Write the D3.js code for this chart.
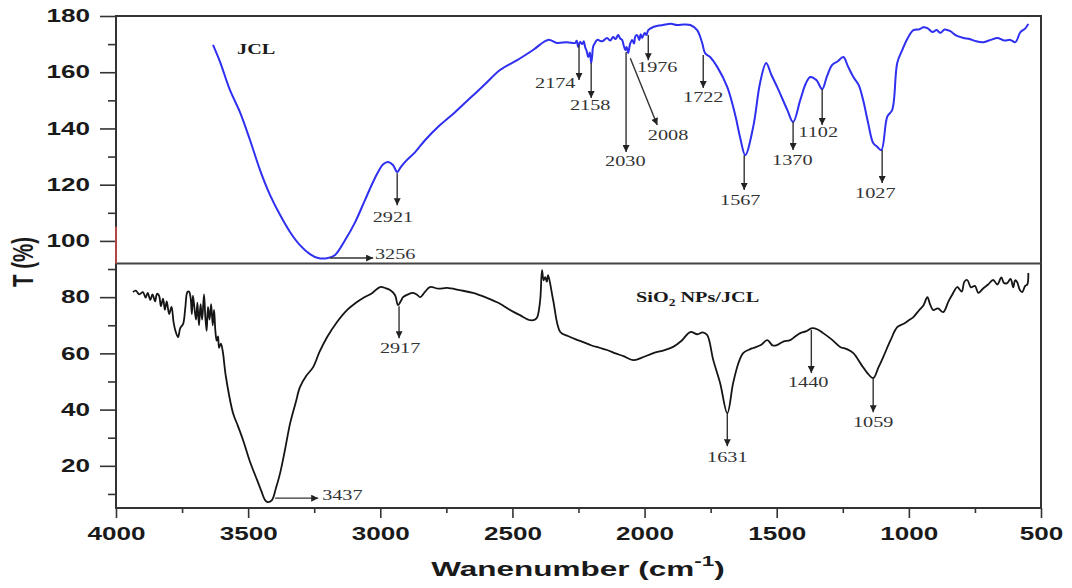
<!DOCTYPE html>
<html lang="en">
<head>
<meta charset="UTF-8">
<title>FTIR spectra</title>
<script src="https://d3js.org/d3.v7.min.js"></script>
<style>
    body { margin: 0; background: #fff; }
</style>
</head>
<body>
<script type="text/javascript">
    // ---- data ----
    var xTicks = [4000, 3500, 3000, 2500, 2000, 1500, 1000, 500];
    var xMinor = [3750, 3250, 2750, 2250, 1750, 1250, 750];
    var yTicks = [20, 40, 60, 80, 100, 120, 140, 160, 180];
    var yMinor = [10, 30, 50, 70, 90, 110, 130, 150, 170];

    // JCL (blue, upper trace): [wavenumber, T %]
    var jclSpectrum = [[3633,169.7],[3606,163.6],[3569,153.7],[3531,145.8],[3493,135.9],[3455,125.2],[3417,116.3],[3379,109.2],
        [3341,103.1],[3304,98.5],[3266,95.3],[3235,93.9],[3198,93.9],[3171,95.0],[3133,100.3],[3095,106.7],[3058,114.5],
        [3020,122.4],[2989,127.3],[2970,128.1],[2952,127.0],[2936,124.5],[2925,125.9],[2906,128.1],[2868,131.6],[2830,135.9],
        [2774,141.2],[2717,145.8],[2660,150.8],[2603,155.8],[2547,160.8],[2482,164.3],[2422,167.9],[2365,171.5],[2331,170.4],
        [2293,170.7],[2263,170.4],[2257,171.2],[2251,169.0],[2244,170.8],[2236,170.0],[2230,171.0],[2225,169.0],[2219,167.5],
        [2213,165.4],[2207,167.0],[2202,163.3],[2198,166.0],[2195,169.0],[2187,170.5],[2179,171.5],[2160,171.0],[2142,172.2],
        [2130,171.3],[2119,172.5],[2110,171.8],[2100,173.2],[2092,172.0],[2085,171.5],[2079,169.5],[2073,167.9],[2068,169.0],
        [2062,166.8],[2055,170.0],[2047,171.5],[2040,170.2],[2035,172.8],[2028,173.2],[2020,171.5],[2015,173.5],[2009,172.2],
        [2000,174.0],[1993,173.2],[1986,175.0],[1967,176.1],[1950,176.5],[1930,176.8],[1900,177.2],[1877,176.8],[1850,177.0],
        [1827,176.8],[1801,175.0],[1782,170.4],[1771,166.8],[1752,165.4],[1725,161.9],[1687,154.7],[1657,144.8],[1638,136.6],
        [1619,130.5],[1589,140.5],[1563,156.2],[1540,163.3],[1520,159.0],[1498,154.7],[1460,146.6],[1438,142.3],[1411,150.1],
        [1390,156.0],[1373,158.3],[1350,157.2],[1328,154.0],[1310,158.5],[1290,162.6],[1270,163.8],[1248,165.4],[1230,162.0],
        [1210,158.3],[1190,155.5],[1173,150.1],[1154,141.9],[1135,134.8],[1120,133.5],[1104,132.3],[1082,144.1],[1063,146.6],
        [1044,163.3],[1025,167.9],[1005,172.0],[983,175.0],[960,175.3],[945,176.0],[930,175.7],[910,174.3],[895,175.0],
        [881,174.0],[865,175.2],[843,174.6],[820,173.0],[794,172.2],[770,171.8],[745,171.0],[718,170.7],[690,171.5],
        [665,172.2],[640,171.3],[616,171.5],[597,170.7],[578,174.3],[560,175.5],[548,177.2]];

    // SiO2 NPs/JCL (black, lower trace): [wavenumber, T %]
    var sioSpectrum = [[3936,81.8],[3925,82.3],[3912,81.0],[3898,81.8],[3888,79.8],[3880,81.5],[3870,79.0],[3862,81.0],
        [3852,78.5],[3845,81.2],[3837,80.5],[3830,76.8],[3822,79.5],[3815,75.5],[3808,78.5],[3799,74.0],[3790,76.5],
        [3782,71.0],[3775,68.0],[3765,65.8],[3757,69.0],[3746,70.5],[3738,76.0],[3730,81.8],[3724,82.0],[3718,80.0],
        [3713,74.0],[3709,80.5],[3703,76.0],[3697,72.0],[3692,78.0],[3686,70.0],[3680,77.5],[3674,72.0],[3667,81.0],
        [3662,73.0],[3657,68.0],[3652,76.5],[3646,72.0],[3640,77.5],[3634,70.0],[3629,75.5],[3624,68.0],[3619,64.5],
        [3614,66.0],[3610,62.0],[3603,63.5],[3595,60.1],[3590,56.0],[3584,51.6],[3557,38.7],[3540,34.5],[3519,29.1],
        [3495,22.0],[3466,14.9],[3450,11.0],[3436,7.8],[3425,7.1],[3410,7.8],[3395,12.0],[3379,17.4],[3360,26.0],
        [3341,35.2],[3320,42.5],[3304,48.0],[3280,52.0],[3254,55.1],[3230,60.5],[3201,65.8],[3165,71.0],[3126,75.4],
        [3095,77.8],[3065,79.7],[3030,81.5],[3001,83.6],[2980,83.2],[2963,82.5],[2944,80.7],[2933,77.2],[2920,79.0],
        [2914,80.0],[2895,81.0],[2876,81.5],[2860,80.8],[2849,80.0],[2830,82.0],[2812,83.6],[2780,83.0],[2747,83.3],
        [2700,82.5],[2649,81.5],[2596,79.7],[2550,77.8],[2509,75.4],[2470,73.5],[2433,71.8],[2415,72.0],[2406,72.9],
        [2395,78.9],[2388,89.6],[2382,86.0],[2376,87.1],[2370,85.5],[2365,87.8],[2346,79.0],[2319,67.6],[2290,66.2],
        [2260,65.0],[2232,64.0],[2200,62.8],[2170,62.0],[2142,61.2],[2110,60.0],[2080,59.0],[2043,57.6],[2010,58.5],
        [1967,60.1],[1930,61.0],[1892,62.3],[1860,64.5],[1827,67.6],[1800,66.8],[1780,67.5],[1763,66.5],[1740,57.6],
        [1714,49.4],[1687,38.7],[1665,49.4],[1645,56.5],[1627,60.1],[1600,61.5],[1589,61.9],[1560,63.0],[1536,64.7],
        [1515,62.8],[1498,63.0],[1475,64.2],[1449,64.7],[1430,66.0],[1411,67.2],[1390,67.8],[1366,69.0],[1345,68.5],
        [1324,67.2],[1290,64.8],[1260,62.3],[1235,61.5],[1210,60.1],[1180,56.0],[1157,53.0],[1135,51.2],[1115,55.0],
        [1097,58.7],[1070,64.5],[1044,69.3],[1020,70.5],[1000,71.8],[983,72.9],[960,75.5],[945,77.0],[930,80.0],
        [920,77.5],[908,75.4],[890,76.0],[870,74.7],[850,78.5],[835,81.0],[817,83.6],[800,82.0],[790,85.5],[779,86.1],
        [765,83.5],[750,84.0],[737,81.5],[720,83.0],[700,84.5],[681,86.1],[665,84.5],[650,87.0],[640,85.0],[628,85.0],
        [615,86.5],[605,83.5],[598,86.0],[590,85.3],[580,82.5],[571,81.8],[560,84.0],[552,84.5],[548,88.6]];

    // peak marks: [label, arrow from (wn, T), arrow to (wn, T), label at (wn, T)]
    var jclMarks = [
        ["3256", 3190, 93.9, 3027, 93.9, 3020, 93.5],
        ["2921", 2936, 124.1, 2936, 112.7, 2952, 106.7],
        ["2174", 2248, 169.7, 2248, 157.2, 2338, 154.4],
        ["2158", 2202, 163.3, 2202, 150.8, 2206, 146.5],
        ["2030", 2070, 167.2, 2070, 131.6, 2073, 126.6],
        ["2008", 2054, 165.0, 1952, 141.2, 1911, 135.9],
        ["1976", 1986, 173.2, 1986, 164.3, 1952, 160.1],
        ["1722", 1778, 166.1, 1778, 154.4, 1778, 149.4],
        ["1567", 1623, 130.5, 1623, 118.1, 1638, 112.8],
        ["1370", 1438, 142.3, 1438, 132.3, 1441, 127.0],
        ["1102", 1328, 154.0, 1328, 141.2, 1343, 136.9],
        ["1027", 1101, 132.3, 1101, 120.6, 1127, 115.2]
    ];
    var sioMarks = [
        ["3437", 3398, 8.5, 3235, 8.5, 3220, 7.8],
        ["2917", 2929, 76.8, 2929, 65.4, 2925, 60.1],
        ["1631", 1687, 38.4, 1687, 27.0, 1687, 21.3],
        ["1440", 1369, 68.3, 1369, 53.0, 1381, 48.0],
        ["1059", 1135, 51.2, 1135, 39.1, 1135, 33.8]
    ];
    var splitT = 92;          // divider between the two traces
    var redMark = [92, 105];  // small red stretch on the y axis

    // ---- layout ----
    var svgWidth = 1072, svgHeight = 588;
    var plotLeft = 116, plotRight = 1041, plotTop = 16, plotBottom = 508;
    var stretch = 1.45;       // the reference is wider than tall, text too
    var serifStretch = 1.35;

    var xScale = d3.scaleLinear().domain([4000, 500]).range([plotLeft, plotRight]);
    var yScale = d3.scaleLinear().domain([5, 180]).range([plotBottom, plotTop]);

    var svg = d3.select("body").append("svg")
        .attr("width", svgWidth)
        .attr("height", svgHeight);

    svg.append("defs").append("marker")
        .attr("id", "arrow")
        .attr("viewBox", "0 0 10 10")
        .attr("refX", 10)
        .attr("refY", 5)
        .attr("markerUnits", "userSpaceOnUse")
        .attr("markerWidth", 8)
        .attr("markerHeight", 7)
        .attr("orient", "auto")
        .append("path")
        .attr("d", "M0,0 L10,5 L0,10 z")
        .attr("fill", "#222");

    // axes
    var sansFont = "'Liberation Sans', Arial, Helvetica, sans-serif";
    var serifFont = "'Liberation Serif', 'Times New Roman', serif";

    var xAxis = d3.axisBottom(xScale).tickValues(xTicks).tickSize(10).tickFormat(d3.format("d"));
    var xAxisMinor = d3.axisBottom(xScale).tickValues(xMinor).tickSize(5).tickFormat("");
    var yAxis = d3.axisLeft(yScale).tickValues(yTicks).tickSize(16).tickFormat(d3.format("d"));
    var yAxisMinor = d3.axisLeft(yScale).tickValues(yMinor).tickSize(8).tickFormat("");

    var styleAxis = function (g) {
        g.select(".domain").remove();
        g.selectAll("line").attr("stroke", "#333").attr("stroke-width", 1.6);
        g.selectAll("text")
            .attr("font-family", sansFont)
            .attr("font-weight", "bold")
            .attr("font-size", "18px")
            .attr("fill", "#1a1a1a");
    };

    svg.append("g")
        .attr("class", "x axis")
        .attr("transform", "translate(0," + plotBottom + ")")
        .call(xAxis)
        .call(styleAxis)
        .selectAll("text")
        .attr("y", 19)
        .attr("transform", "scale(" + stretch + ",1)");
    svg.append("g")
        .attr("transform", "translate(0," + plotBottom + ")")
        .call(xAxisMinor)
        .call(styleAxis);

    svg.append("g")
        .attr("class", "y axis")
        .attr("transform", "translate(" + plotLeft + ",0)")
        .call(yAxis)
        .call(styleAxis)
        .selectAll("text")
        .attr("x", -26 / stretch)
        .attr("transform", "scale(" + stretch + ",1)");
    svg.append("g")
        .attr("transform", "translate(" + plotLeft + ",0)")
        .call(yAxisMinor)
        .call(styleAxis);

    // frame
    svg.append("rect")
        .attr("x", plotLeft)
        .attr("y", plotTop)
        .attr("width", plotRight - plotLeft)
        .attr("height", plotBottom - plotTop)
        .attr("fill", "none")
        .attr("stroke", "#333")
        .attr("stroke-width", 2);

    svg.append("line")
        .attr("x1", plotLeft).attr("x2", plotRight)
        .attr("y1", yScale(splitT)).attr("y2", yScale(splitT))
        .attr("stroke", "#444")
        .attr("stroke-width", 2);

    svg.append("line")
        .attr("x1", plotLeft).attr("x2", plotLeft)
        .attr("y1", yScale(redMark[0])).attr("y2", yScale(redMark[1]))
        .attr("stroke", "#d24a4a")
        .attr("stroke-width", 1.6);

    // traces
    var line = d3.line()
        .curve(d3.curveCatmullRom.alpha(0.5))
        .x(function (d) { return xScale(d[0]); })
        .y(function (d) { return yScale(d[1]); });

    svg.append("path")
        .datum(jclSpectrum)
        .attr("d", line)
        .attr("fill", "none")
        .attr("stroke", "#2f2ff0")
        .attr("stroke-width", 2)
        .attr("stroke-linejoin", "round");

    svg.append("path")
        .datum(sioSpectrum)
        .attr("d", line)
        .attr("fill", "none")
        .attr("stroke", "#151515")
        .attr("stroke-width", 1.8)
        .attr("stroke-linejoin", "round");

    // peak arrows and labels
    var drawMarks = function (marks) {
        var g = svg.append("g");
        g.selectAll("line")
            .data(marks)
            .enter()
            .append("line")
            .attr("x1", function (d) { return xScale(d[1]); })
            .attr("y1", function (d) { return yScale(d[2]); })
            .attr("x2", function (d) { return xScale(d[3]); })
            .attr("y2", function (d) { return yScale(d[4]); })
            .attr("stroke", "#333")
            .attr("stroke-width", 1.4)
            .attr("marker-end", "url(#arrow)");
        g.selectAll("g")
            .data(marks)
            .enter()
            .append("g")
            .attr("transform", function (d) {
                return "translate(" + xScale(d[5]) + "," + yScale(d[6]) + ") scale(" + serifStretch + ",1)";
            })
            .append("text")
            .text(function (d) { return d[0]; })
            .attr("text-anchor", function (d) { return d[2] === d[4] ? "start" : "middle"; })
            .attr("font-family", serifFont)
            .attr("font-size", "15px")
            .attr("fill", "#333");
    };
    drawMarks(jclMarks);
    drawMarks(sioMarks);

    // trace names
    svg.append("g")
        .attr("transform", "translate(" + xScale(3542) + "," + yScale(166.5) + ") scale(" + serifStretch + ",1)")
        .append("text")
        .attr("font-family", serifFont)
        .attr("font-weight", "bold")
        .attr("font-size", "15px")
        .attr("fill", "#1a1a1a")
        .text("JCL");

    var sioName = svg.append("g")
        .attr("transform", "translate(" + xScale(2032) + "," + yScale(78.2) + ") scale(" + serifStretch + ",1)")
        .append("text")
        .attr("font-family", serifFont)
        .attr("font-weight", "bold")
        .attr("font-size", "15px")
        .attr("fill", "#1a1a1a");
    sioName.append("tspan").text("SiO");
    sioName.append("tspan").attr("font-size", "10px").attr("dy", 4).text("2");
    sioName.append("tspan").attr("dy", -4).text(" NPs/JCL");

    // axis titles
    var xTitle = svg.append("g")
        .attr("transform", "translate(578,576) scale(1.5,1)")
        .append("text")
        .attr("text-anchor", "middle")
        .attr("font-family", sansFont)
        .attr("font-weight", "bold")
        .attr("font-size", "21px")
        .attr("fill", "#1a1a1a");
    xTitle.append("tspan").text("Wanenumber (cm");
    xTitle.append("tspan").attr("font-size", "15px").attr("dy", -10).text("-1");
    xTitle.append("tspan").attr("dy", 10).text(")");

    svg.append("g")
        .attr("transform", "translate(33,262) scale(1.47,1) rotate(-90)")
        .append("text")
        .attr("text-anchor", "middle")
        .attr("font-family", sansFont)
        .attr("font-weight", "bold")
        .attr("font-size", "20.5px")
        .attr("fill", "#1a1a1a")
        .text("T (%)");
</script>
</body>
</html>
